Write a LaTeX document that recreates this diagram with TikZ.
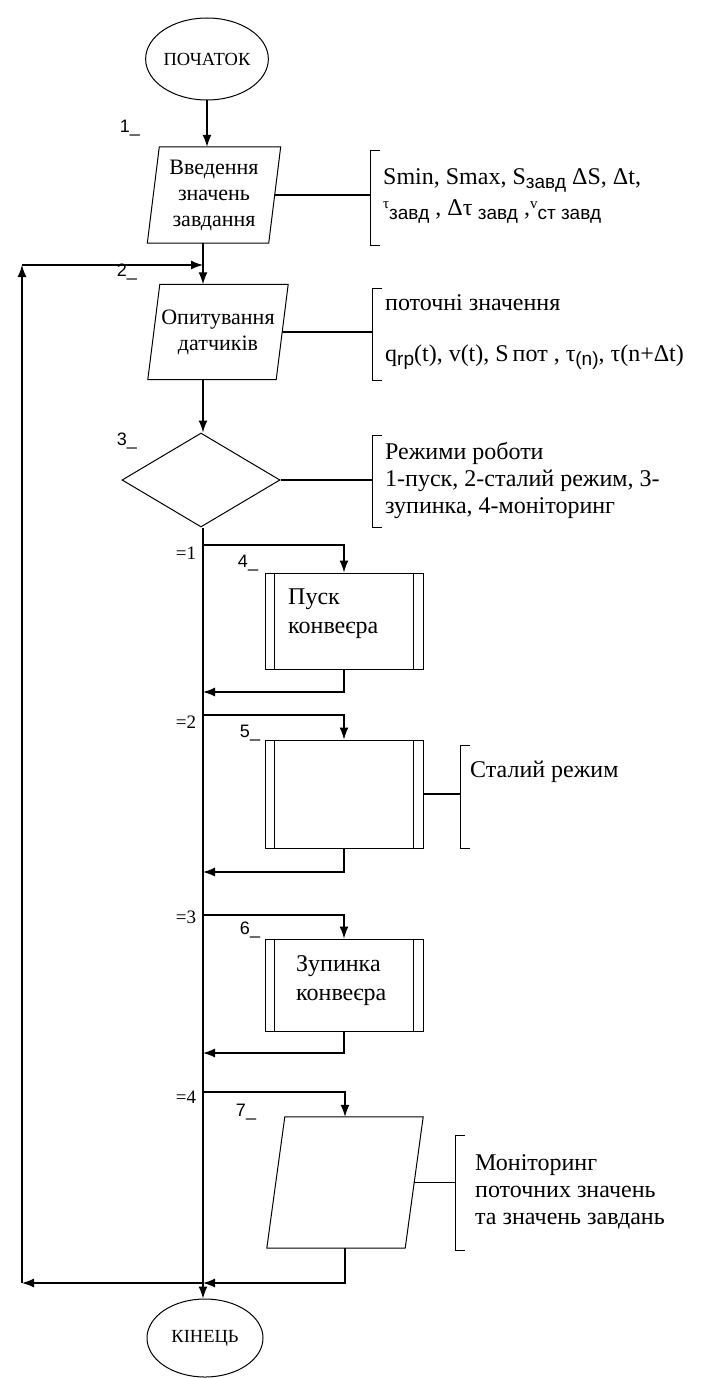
\documentclass[tikz,border=0pt]{standalone}
\usepackage{fontspec}
\setmainfont{Liberation Serif}
\newfontfamily\lblfont{Liberation Sans}
\usetikzlibrary{shapes.geometric,arrows.meta}
\newcommand\lo[1]{\raisebox{-4pt}{{\lblfont\fontsize{19}{20}\selectfont #1}}}
\newcommand\up[1]{\raisebox{7pt}{\fontsize{15}{16}\selectfont #1}}
\newcommand\drawpara[2]{\draw[shp] ([xshift=#2]#1.north west) -- ([xshift=#2]#1.north east) -- ([xshift=-#2]#1.south east) -- ([xshift=-#2]#1.south west) -- cycle;}
\newcommand\drawsub[1]{\draw[shp] ([xshift=10pt]#1.north west) -- ([xshift=10pt]#1.south west) ([xshift=-10pt]#1.north east) -- ([xshift=-10pt]#1.south east);}
\begin{document}
\begin{tikzpicture}[x=1pt,y=-1pt,
  shp/.style={line width=1pt},
  conn/.style={line width=1.3pt,-{Latex[length=12pt,width=9pt]}},
  wire/.style={line width=1.3pt},
  term/.style={ellipse,draw,line width=1pt,minimum width=116pt,minimum height=82pt,inner sep=0pt,font=\fontsize{18.5}{20}\selectfont},
  iobox/.style={rectangle,inner sep=0pt,align=center,font=\fontsize{22}{26}\selectfont},
  subbox/.style={rectangle,draw,line width=1pt,inner sep=0pt,minimum width=158pt},
  blocktext/.style={anchor=west,align=left,inner sep=0pt,font=\fontsize{24}{29}\selectfont},
  note/.style={anchor=west,align=left,inner sep=0pt,font=\fontsize{24}{27}\selectfont},
  num/.style={inner sep=0pt,font=\lblfont\fontsize{18}{20}\selectfont},
  cond/.style={inner sep=0pt,font=\fontsize{19}{20}\selectfont}
]
\useasboundingbox (0,0) rectangle (708,1378);

% terminals
\node[term] (start) at (207,59) {ПОЧАТОК};
\node[term, minimum height=78pt] (end) at (205,1338) {КІНЕЦЬ};

% block 1
\node[iobox, minimum width=121pt, minimum height=96pt] (b1) at (214,195) {Введення\\значень\\завдання};
\drawpara{b1}{6pt}
\node[num] (n1) at (130,128) {1\_};

% block 2
\node[iobox, minimum width=128pt, minimum height=95pt] (b2) at (218,332) {Опитування\\датчиків};
\drawpara{b2}{6pt}
\node[num] (n2) at (127,272) {2\_};

% decision
\node[diamond,draw,line width=1pt,minimum width=158pt,minimum height=94pt,inner sep=0pt] (d3) at (201,480) {};
\node[num] (n3) at (127,441) {3\_};

% sub-process blocks
\node[subbox, minimum height=96pt] (b4) at (344,621) {};
\drawsub{b4}
\node[blocktext] (t4) at (288,614) {Пуск\\конвеєра};
\node[num] (n4) at (248,563) {4\_};

\node[subbox, minimum height=108pt] (b5) at (344,794) {};
\drawsub{b5}
\node[num] (n5) at (250,733) {5\_};

\node[subbox, minimum height=92pt] (b6) at (344,985) {};
\drawsub{b6}
\node[blocktext] (t6) at (296,981) {Зупинка\\конвеєра};
\node[num] (n6) at (250,930) {6\_};

% block 7
\node[iobox, minimum width=138pt, minimum height=131pt] (b7) at (345,1182.5) {};
\drawpara{b7}{9pt}
\node[num] (n7) at (246,1112) {7\_};

% branch labels
\node[cond] (c1) at (186,553) {=1};
\node[cond] (c2) at (186,722) {=2};
\node[cond] (c3) at (186,917) {=3};
\node[cond] (c4) at (186,1097) {=4};

% coordinates
\coordinate (j2) at (203,265);
\coordinate (lt) at (22,265);
\coordinate (lb) at (22,1283);
\coordinate (r7) at (203,1283);
\coordinate (s1) at (203,545);
\coordinate (s2) at (203,715);
\coordinate (s3) at (203,915);
\coordinate (s4) at (203,1092);
\coordinate (r4) at (203,692);
\coordinate (r5) at (203,872);
\coordinate (r6) at (203,1053);

% main connectors
\draw[conn] (start) -- (b1.north -| start);
\draw[wire] (b1.south -| j2) -- (j2);
\draw[conn] (j2) -- (b2.north -| j2);
\draw[conn] (b2.south -| j2) -- (d3.north -| j2);
\draw[conn] (d3.south -| j2) -- (end.north -| j2);

% branches
\draw[conn] (s1) -- (s1 -| b4.north) -- (b4.north);
\draw[conn] (b4.south) -- (b4.south |- r4) -- (r4);
\draw[conn] (s2) -- (s2 -| b5.north) -- (b5.north);
\draw[conn] (b5.south) -- (b5.south |- r5) -- (r5);
\draw[conn] (s3) -- (s3 -| b6.north) -- (b6.north);
\draw[conn] (b6.south) -- (b6.south |- r6) -- (r6);
\draw[conn] (s4) -- (s4 -| b7.north) -- (b7.north);
\draw[conn] (b7.south) -- (b7.south |- r7) -- (r7);

% loop back
\draw[conn] (r7) -- (lb);
\draw[conn] (lb) -- (lt);
\draw[conn] (lt) -- (j2);

% annotations
\coordinate (a1) at (370,195);
\draw[wire] (b1.east) -- (a1);
\draw[shp] (380,150) -- (370,150) -- (370,245) -- (380,245);
\node[note] (t1) at (383,196) {Smin, Smax, S\lo{завд} ΔS, Δt,\\[4pt]\up{τ}\lo{завд} , Δτ\lo{ завд} ,\up{v}\lo{ст завд}};

\coordinate (a2) at (372,332);
\draw[wire] (b2.east) -- (a2);
\draw[shp] (382,288) -- (372,288) -- (372,380) -- (382,380);
\node[note] (t2a) at (385,303) {поточні значення};
\node[note] (t2b) at (385,357) {q\lo{rp}(t), v(t), S\,пот , τ\lo{(n)}, τ(n+Δt)};

\coordinate (a3) at (372,480);
\draw[wire] (d3.east) -- (a3);
\draw[shp] (382,435) -- (372,435) -- (372,527) -- (382,527);
\node[note] (t3) at (385,480) {Режими роботи\\1-пуск, 2-сталий режим, 3-\\зупинка, 4-моніторинг};

\coordinate (a5) at (460,794);
\draw[wire] (b5.east) -- (a5);
\draw[shp] (470,745) -- (460,745) -- (460,848) -- (470,848);
\node[note] (t5) at (470,772) {Сталий режим};

\coordinate (a7) at (455,1182.5);
\draw[wire] (b7.east) -- (a7);
\draw[shp] (465,1135) -- (455,1135) -- (455,1250) -- (465,1250);
\node[note] (t7) at (475,1192) {Моніторинг\\поточних значень\\та значень завдань};
\end{tikzpicture}
\end{document}
